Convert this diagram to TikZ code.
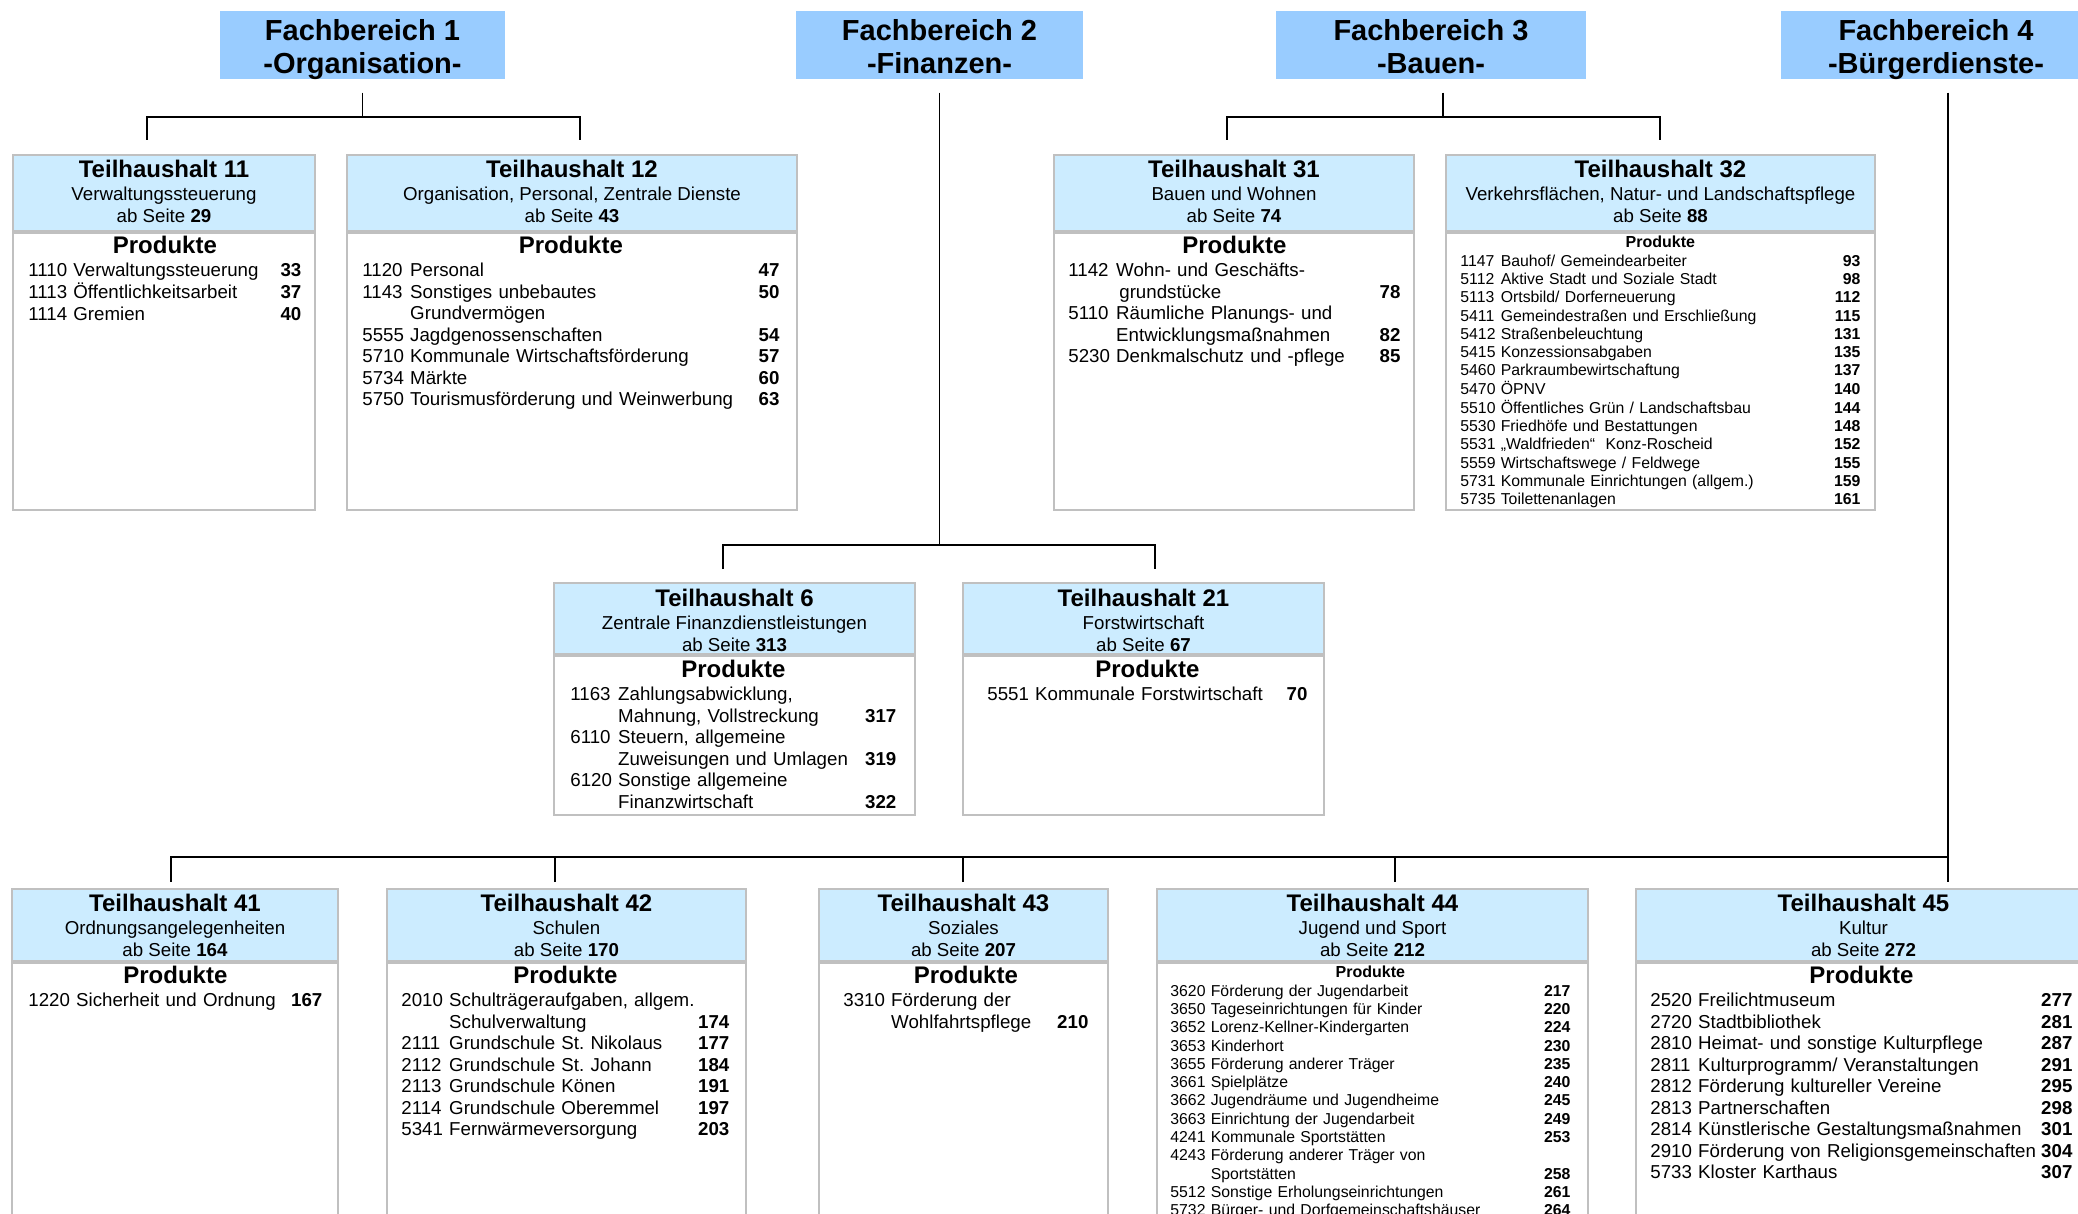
\documentclass[tikz,border=0pt]{standalone}
\usepackage{fontspec}
\setmainfont{Liberation Sans}
\usepackage{array}
\usetikzlibrary{positioning}
\frenchspacing

\definecolor{fbblue}{RGB}{153,204,255}
\definecolor{thblue}{RGB}{204,236,255}
\definecolor{framegray}{RGB}{192,192,192}

\newcommand{\fbfont}{\fontsize{14.5}{16.5}\selectfont\bfseries}
\newcommand{\fbstrut}{\rule{0pt}{14.6pt}}
\newcommand{\subfont}{\fontsize{9.35}{11}\selectfont}
\newcommand{\itemfont}{\fontsize{9.35}{10.75}\selectfont}
\newcommand{\smallitemfont}{\fontsize{7.9}{9.15}\selectfont}
\newcommand{\thtitle}[1]{{\fontsize{12}{12}\selectfont\bfseries #1}\\[0.5pt]}
% \thpage{seite}{tiefe}: Tiefe schiebt den Kopftext etwas nach oben
\newcommand{\thpage}[2]{ab Seite \textbf{#1}\rule[-#2]{0pt}{0pt}}
\newcommand{\prodrow}{\multicolumn{3}{@{}c@{}}{\fontsize{12}{12}\selectfont\bfseries Produkte}\\[0.7pt]}
\newcommand{\smallprodrow}{\multicolumn{3}{@{}c@{}}{\fontsize{8}{8}\selectfont\bfseries Produkte}\\[0.3pt]}
\newenvironment{prodtab}{\begin{tabular*}{\linewidth}[t]{@{}l@{\ }l@{\extracolsep{\fill}}>{\bfseries}r@{}}}{\end{tabular*}}

\tikzset{
  fachbereich/.style={fill=fbblue, inner sep=0pt, minimum height=33pt, align=center, font=\fbfont},
  thhead/.style={fill=thblue, draw=framegray, line width=1pt, inner sep=0pt, align=center, font=\subfont},
  thbody/.style={fill=white, draw=framegray, line width=1pt, inner sep=0pt},
  plist/.style={inner sep=0pt, anchor=north west, font=\itemfont, align=left},
  link/.style={black, line width=0.9pt},
}

\begin{document}
\begin{tikzpicture}[x=0.5pt, y=-0.5pt]
  \useasboundingbox (0,0) rectangle (2078,1214);
  \clip (0,0) rectangle (2078,1214);

  % Fachbereiche
  \node[fachbereich, minimum width=142.5pt] (fb1) at (362.5,45) {\fbstrut Fachbereich 1\\-Organisation-\vphantom{g}};
  \node[fachbereich, minimum width=143.5pt] (fb2) at (939.5,45) {\fbstrut Fachbereich 2\\-Finanzen-\vphantom{g}};
  \node[fachbereich, minimum width=155pt] (fb3) at (1431,45) {\fbstrut Fachbereich 3\\-Bauen-\vphantom{g}};
  \node[fachbereich, minimum width=155pt] (fb4) at (1936,45) {\fbstrut Fachbereich 4\\-Bürgerdienste-\vphantom{g}};

  % Teilhaushalte, obere Reihe
  \node[thhead, minimum width=151pt, minimum height=38pt] (th11) at (164,193)
    {\thtitle{Teilhaushalt 11}Verwaltungssteuerung\\\thpage{29}{1.3pt}};
  \node[thbody, minimum width=151pt, minimum height=138.5pt, below=0pt of th11] (th11b) {};
  \node[plist, text width=136.5pt] (th11l) at (28,236) {\begin{prodtab}\prodrow
    1110 & Verwaltungssteuerung & 33\\
    1113 & Öffentlichkeitsarbeit & 37\\
    1114 & Gremien & 40
  \end{prodtab}};

  \node[thhead, minimum width=225pt, minimum height=38pt] (th12) at (572,193)
    {\thtitle{Teilhaushalt 12}Organisation, Personal, Zentrale Dienste\\\thpage{43}{1.3pt}};
  \node[thbody, minimum width=225pt, minimum height=138.5pt, below=0pt of th12] (th12b) {};
  \node[plist, text width=208.5pt] (th12l) at (362,236) {\begin{prodtab}\prodrow
    1120 & Personal & 47\\
    1143 & Sonstiges unbebautes & 50\\
         & Grundvermögen & \\
    5555 & Jagdgenossenschaften & 54\\
    5710 & Kommunale Wirtschaftsförderung & 57\\
    5734 & Märkte & 60\\
    5750 & Tourismusförderung und Weinwerbung & 63
  \end{prodtab}};

  \node[thhead, minimum width=180pt, minimum height=38pt] (th31) at (1234,193)
    {\thtitle{Teilhaushalt 31}Bauen und Wohnen\\\thpage{74}{1.3pt}};
  \node[thbody, minimum width=180pt, minimum height=138.5pt, below=0pt of th31] (th31b) {};
  \node[plist, text width=166pt] (th31l) at (1068,236) {\begin{prodtab}\prodrow
    1142 & Wohn- und Geschäfts- & \\
         & \,grundstücke & 78\\
    5110 & Räumliche Planungs- und & \\
         & Entwicklungsmaßnahmen & 82\\
    5230 & Denkmalschutz und -pflege & 85
  \end{prodtab}};

  \node[thhead, minimum width=214.5pt, minimum height=38pt] (th32) at (1660.5,193)
    {\thtitle{Teilhaushalt 32}Verkehrsflächen, Natur- und Landschaftspflege\\\thpage{88}{1.3pt}};
  \node[thbody, minimum width=214.5pt, minimum height=138.5pt, below=0pt of th32] (th32b) {};
  \node[plist, text width=200pt, font=\smallitemfont] (th32l) at (1460,234) {\begin{prodtab}\smallprodrow
    1147 & Bauhof/ Gemeindearbeiter & 93\\
    5112 & Aktive Stadt und Soziale Stadt & 98\\
    5113 & Ortsbild/ Dorferneuerung & 112\\
    5411 & Gemeindestraßen und Erschließung & 115\\
    5412 & Straßenbeleuchtung & 131\\
    5415 & Konzessionsabgaben & 135\\
    5460 & Parkraumbewirtschaftung & 137\\
    5470 & ÖPNV & 140\\
    5510 & Öffentliches Grün / Landschaftsbau & 144\\
    5530 & Friedhöfe und Bestattungen & 148\\
    5531 & „Waldfrieden“~ Konz-Roscheid & 152\\
    5559 & Wirtschaftswege / Feldwege & 155\\
    5731 & Kommunale Einrichtungen (allgem.) & 159\\
    5735 & Toilettenanlagen & 161
  \end{prodtab}};

  % Teilhaushalte, Fachbereich 2
  \node[thhead, minimum width=180.5pt, minimum height=35.5pt] (th6) at (734.5,618.5)
    {\thtitle{\rule{0pt}{11pt}Teilhaushalt 6}Zentrale Finanzdienstleistungen\\\thpage{313}{0pt}};
  \node[thbody, minimum width=180.5pt, minimum height=79.5pt, below=0pt of th6] (th6b) {};
  \node[plist, text width=163pt] (th6l) at (570,660) {\begin{prodtab}\prodrow
    1163 & Zahlungsabwicklung, & \\
         & Mahnung, Vollstreckung & 317\\
    6110 & Steuern, allgemeine & \\
         & Zuweisungen und Umlagen & 319\\
    6120 & Sonstige allgemeine & \\
         & Finanzwirtschaft & 322
  \end{prodtab}};

  \node[thhead, minimum width=180.5pt, minimum height=35.5pt] (th21) at (1143.5,618.5)
    {\thtitle{\rule{0pt}{11pt}Teilhaushalt 21}Forstwirtschaft\\\thpage{67}{0pt}};
  \node[thbody, minimum width=180.5pt, minimum height=79.5pt, below=0pt of th21] (th21b) {};
  \node[plist, text width=160pt] (th21l) at (987,660) {\begin{prodtab}\prodrow
    5551 & Kommunale Forstwirtschaft & 70
  \end{prodtab}};

  % Teilhaushalte, Fachbereich 4
  \node[thhead, minimum width=163pt, minimum height=36pt] (th41) at (175,925)
    {\thtitle{Teilhaushalt 41}Ordnungsangelegenheiten\\\thpage{164}{0pt}};
  \node[thbody, minimum width=163pt, minimum height=139.5pt, below=0pt of th41] (th41b) {};
  \node[plist, text width=147pt] (th41l) at (28,966) {\begin{prodtab}\prodrow
    1220 & Sicherheit und Ordnung & 167
  \end{prodtab}};

  \node[thhead, minimum width=179.5pt, minimum height=36pt] (th42) at (566.5,925)
    {\thtitle{Teilhaushalt 42}Schulen\\\thpage{170}{0pt}};
  \node[thbody, minimum width=179.5pt, minimum height=139.5pt, below=0pt of th42] (th42b) {};
  \node[plist, text width=164pt] (th42l) at (401,966) {\begin{prodtab}\prodrow
    2010 & Schulträgeraufgaben, allgem. & \\
         & Schulverwaltung & 174\\
    2111 & Grundschule St. Nikolaus & 177\\
    2112 & Grundschule St. Johann & 184\\
    2113 & Grundschule Könen & 191\\
    2114 & Grundschule Oberemmel & 197\\
    5341 & Fernwärmeversorgung & 203
  \end{prodtab}};

  \node[thhead, minimum width=144.5pt, minimum height=36pt] (th43) at (963.5,925)
    {\thtitle{Teilhaushalt 43}Soziales\\\thpage{207}{0pt}};
  \node[thbody, minimum width=144.5pt, minimum height=139.5pt, below=0pt of th43] (th43b) {};
  \node[plist, text width=122.5pt] (th43l) at (843,966) {\begin{prodtab}\prodrow
    3310 & Förderung der & \\
         & Wohlfahrtspflege & 210
  \end{prodtab}};

  \node[thhead, minimum width=215.5pt, minimum height=36pt] (th44) at (1372.5,925)
    {\thtitle{Teilhaushalt 44}Jugend und Sport\\\thpage{212}{0pt}};
  \node[thbody, minimum width=215.5pt, minimum height=139.5pt, below=0pt of th44] (th44b) {};
  \node[plist, text width=200pt, font=\smallitemfont] (th44l) at (1170,964) {\begin{prodtab}\smallprodrow
    3620 & Förderung der Jugendarbeit & 217\\
    3650 & Tageseinrichtungen für Kinder & 220\\
    3652 & Lorenz-Kellner-Kindergarten & 224\\
    3653 & Kinderhort & 230\\
    3655 & Förderung anderer Träger & 235\\
    3661 & Spielplätze & 240\\
    3662 & Jugendräume und Jugendheime & 245\\
    3663 & Einrichtung der Jugendarbeit & 249\\
    4241 & Kommunale Sportstätten & 253\\
    4243 & Förderung anderer Träger von & \\
         & Sportstätten & 258\\
    5512 & Sonstige Erholungseinrichtungen & 261\\
    5732 & Bürger- und Dorfgemeinschaftshäuser & 264
  \end{prodtab}};

  \node[thhead, minimum width=227.5pt, minimum height=36pt] (th45) at (1863.5,925)
    {\thtitle{Teilhaushalt 45}Kultur\\\thpage{272}{0pt}};
  \node[thbody, minimum width=227.5pt, minimum height=139.5pt, below=0pt of th45] (th45b) {};
  \node[plist, text width=211pt] (th45l) at (1650,966) {\begin{prodtab}\prodrow
    2520 & Freilichtmuseum & 277\\
    2720 & Stadtbibliothek & 281\\
    2810 & Heimat- und sonstige Kulturpflege & 287\\
    2811 & Kulturprogramm/ Veranstaltungen & 291\\
    2812 & Förderung kultureller Vereine & 295\\
    2813 & Partnerschaften & 298\\
    2814 & Künstlerische Gestaltungsmaßnahmen & 301\\
    2910 & Förderung von Religionsgemeinschaften & 304\\
    5733 & Kloster Karthaus & 307
  \end{prodtab}};

  % Verbindungen
  \coordinate (bus1) at (362.5,117);
  \coordinate (d11) at (147,140);
  \coordinate (d12) at (580,140);
  \draw[link] ([yshift=-6.5pt]fb1.south) -- (bus1);
  \draw[link] (d11) |- (bus1) -| (d12);

  \coordinate (bus3) at (1443,117);
  \coordinate (d31) at (1227,140);
  \coordinate (d32) at (1660,140);
  \draw[link] ([xshift=6pt,yshift=-6.5pt]fb3.south) -- (bus3);
  \draw[link] (d31) |- (bus3) -| (d32);

  \coordinate (bus2) at (939.5,545);
  \coordinate (d6) at (723,569);
  \coordinate (d21) at (1155,569);
  \draw[link] ([yshift=-6.5pt]fb2.south) -- (bus2);
  \draw[link] (d6) |- (bus2) -| (d21);

  \coordinate (bus4) at (1948,857);
  \coordinate (d41) at (171,882);
  \coordinate (d42) at (555,882);
  \coordinate (d43) at (963,882);
  \coordinate (d44) at (1395,882);
  \coordinate (d45) at (1948,882);
  \draw[link] ([xshift=6pt,yshift=-6.5pt]fb4.south) -- (bus4) -- (d45);
  \draw[link] (bus4) -| (d41);
  \foreach \d in {d42,d43,d44}
    \draw[link] (\d) -- (\d |- bus4);
\end{tikzpicture}
\end{document}
